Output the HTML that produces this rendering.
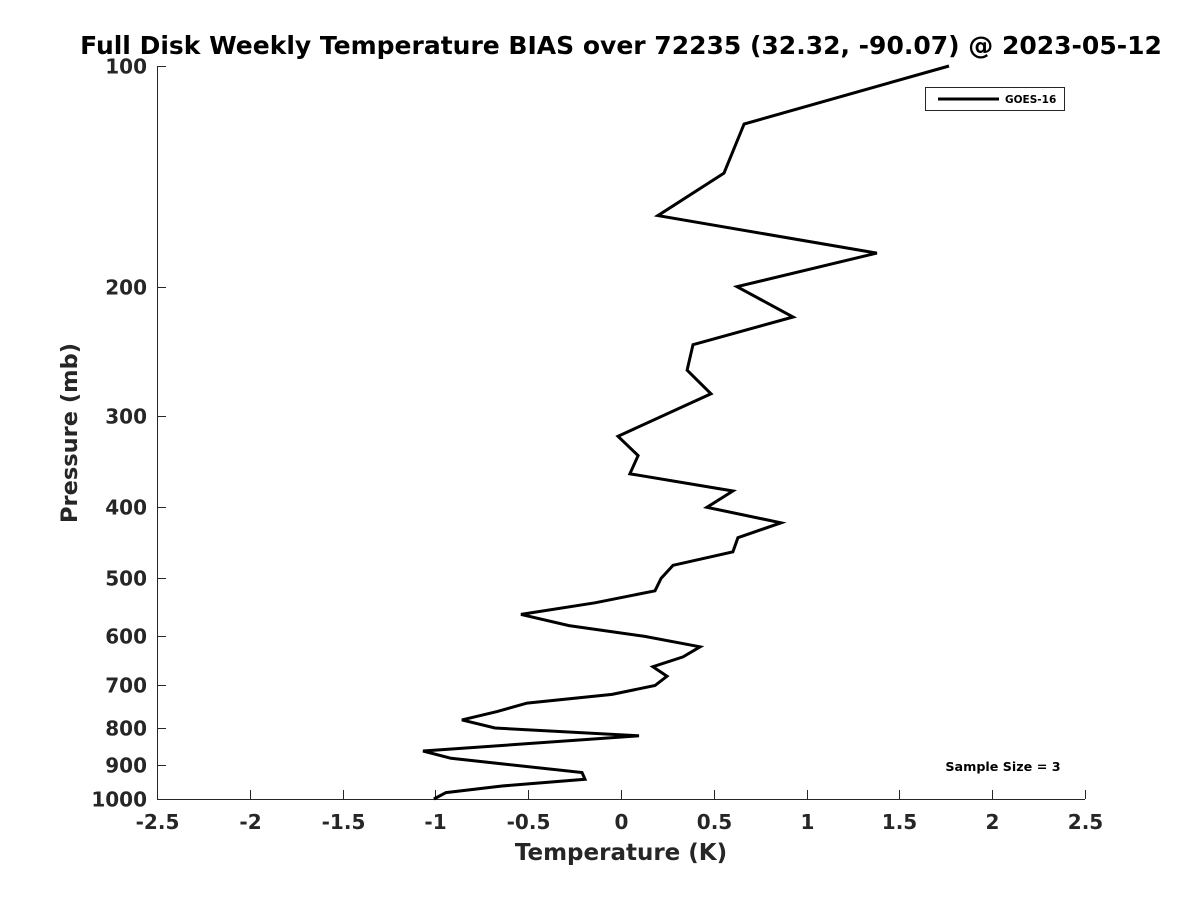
<!DOCTYPE html>
<html><head><meta charset="utf-8"><style>body{margin:0;background:#fff}svg{display:block}text{font-family:"DejaVu Sans","Liberation Sans",sans-serif;font-weight:bold;fill:#262626}</style></head>
<body>
<svg id="chart" width="1200" height="900" viewBox="0 0 1200 900" xmlns="http://www.w3.org/2000/svg">
<rect width="1200" height="900" fill="#fff"/>
<text x="621" y="54" text-anchor="middle" font-size="25" style="fill:#000">Full Disk Weekly Temperature BIAS over 72235 (32.32, -90.07) @ 2023-05-12</text>
<g id="axes"></g>
<g id="series"></g>
<text x="621" y="860" text-anchor="middle" font-size="23">Temperature (K)</text>
<text transform="translate(77,433) rotate(-90)" text-anchor="middle" font-size="22.5">Pressure (mb)</text>
<g>
<rect x="925.5" y="87.5" width="139" height="23" fill="#fff" stroke="#262626" stroke-width="1"/>
<line x1="938" y1="99" x2="999" y2="99" stroke="#000" stroke-width="3"/>
<text x="1005" y="103" font-size="10.5" style="fill:#000">GOES-16</text>
</g>
<text x="1003" y="771" text-anchor="middle" font-size="12.7" style="fill:#000">Sample Size = 3</text>
</svg>
<script>
const xTicks=[-2.5,-2,-1.5,-1,-0.5,0,0.5,1,1.5,2,2.5];
const yTicks=[100,200,300,400,500,600,700,800,900,1000];
const pressure=[100,120,140,160,180,200,220,240,260,280,320,340,360,380,400,420,440,460,480,500,520,540,560,580,600,620,640,660,680,700,720,740,760,780,800,820,860,880,920,940,960,980,1000];
const bias=[1.767,0.663,0.555,0.199,1.379,0.625,0.927,0.388,0.356,0.485,-0.016,0.092,0.048,0.603,0.463,0.862,0.630,0.603,0.280,0.216,0.183,-0.140,-0.539,-0.280,0.129,0.426,0.334,0.172,0.248,0.183,-0.048,-0.506,-0.668,-0.857,-0.679,0.097,-1.067,-0.916,-0.210,-0.194,-0.641,-0.943,-1.008];
const X0=157,X1=1085,Y0=66,Y1=799;
const xs=v=>X0+(v+2.5)/5*(X1-X0);
const ys=p=>Y0+Math.log10(p/100)*(Y1-Y0);
const NS='http://www.w3.org/2000/svg';
const axes=document.getElementById('axes');
function mk(tag,attrs,parent){const e=document.createElementNS(NS,tag);for(const k in attrs)e.setAttribute(k,attrs[k]);parent.appendChild(e);return e;}
let l=mk('line',{x1:X0,y1:Y1+0.5,x2:X1,y2:Y1+0.5,stroke:'#262626','stroke-width':1},axes);


l=mk('line',{x1:X0+0.5,y1:Y0,x2:X0+0.5,y2:Y1,stroke:'#262626','stroke-width':1},axes);


xTicks.forEach(v=>{const x=Math.round(xs(v))+0.5;
 const t=mk('line',{x1:x,y1:Y1,x2:x,y2:Y1-9,stroke:'#262626'},axes);
 
 
 const tx=mk('text',{x:x,y:Y1+30,'text-anchor':'middle','font-size':20},axes);tx.textContent=String(v);
 
 });
yTicks.forEach(p=>{const y=Math.round(ys(p))+0.5;
 const t=mk('line',{x1:X0,y1:y,x2:X0+9,y2:y,stroke:'#262626'},axes);
 
 
 const tx=mk('text',{x:X0-10,y:y+7,'text-anchor':'end','font-size':20},axes);tx.textContent=String(p);
 
 });
const pts=pressure.map((p,i)=>xs(bias[i]).toFixed(1)+','+ys(p).toFixed(1)).join(' ');
const pl=mk('polyline',{points:pts,fill:'none',stroke:'#000','stroke-width':3,'stroke-linejoin':'miter'},document.getElementById('series'));


</script>
</body></html>
